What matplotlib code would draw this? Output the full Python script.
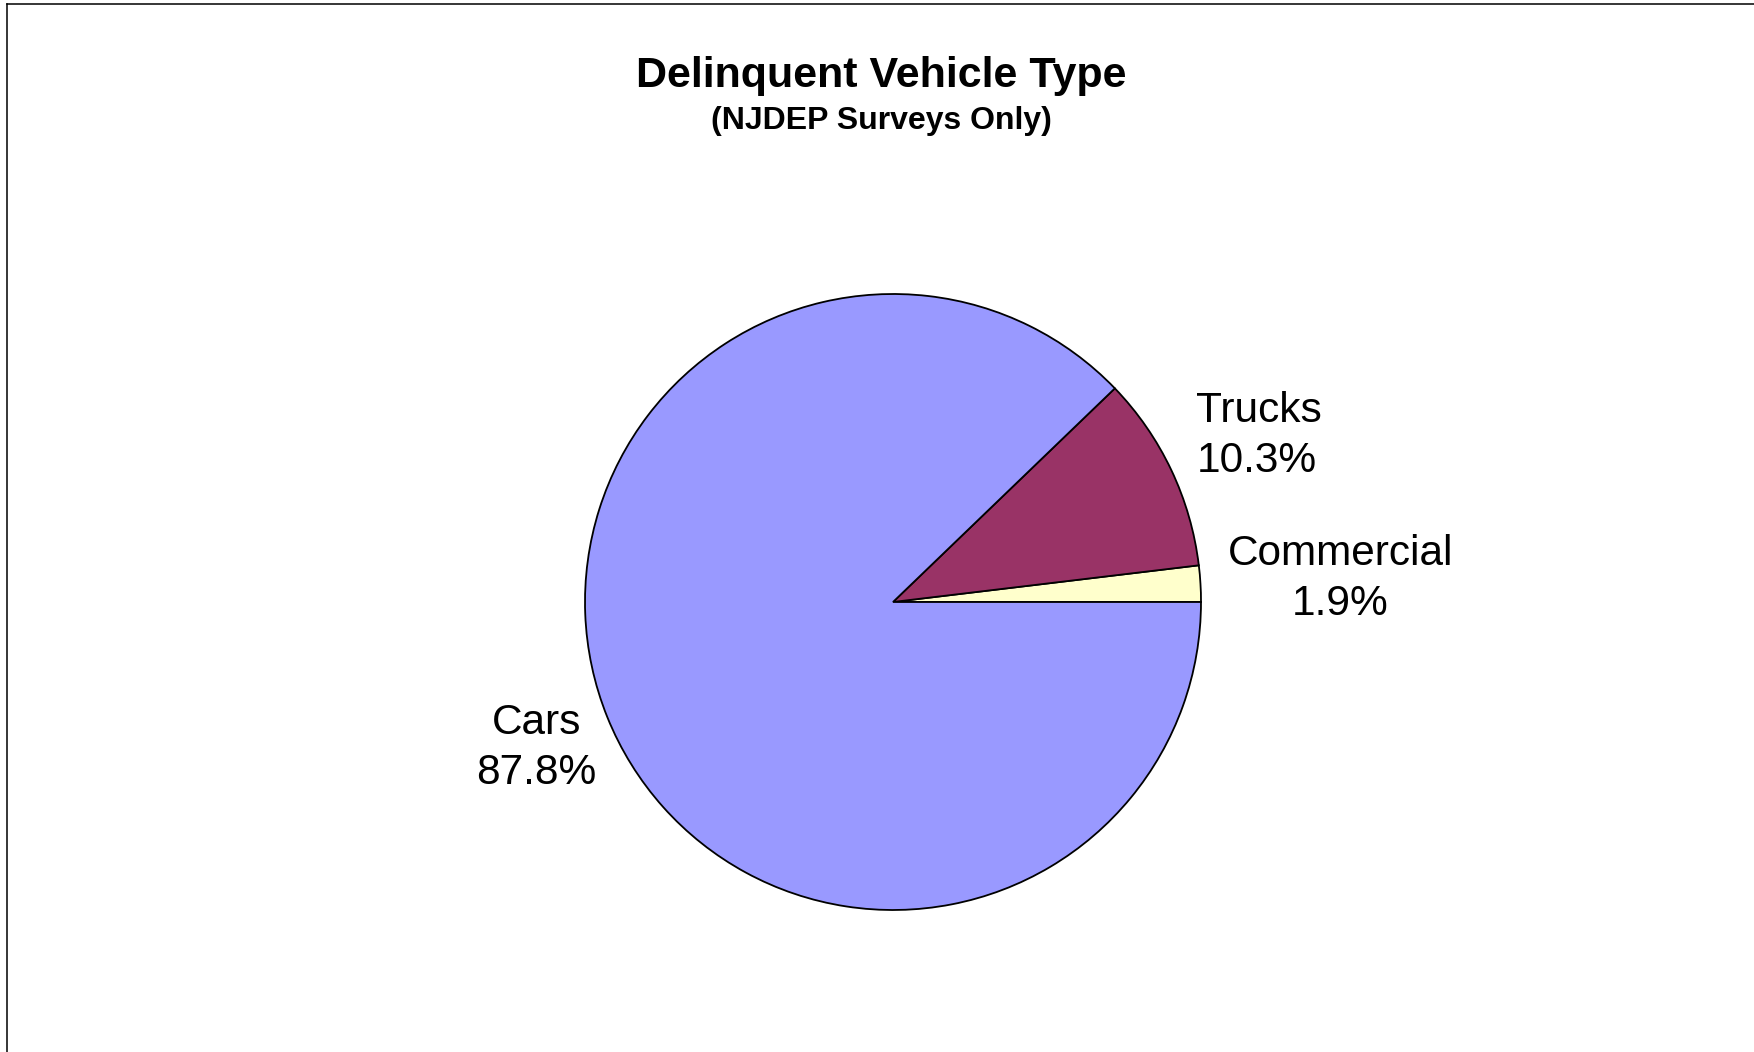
import matplotlib
matplotlib.use("Agg")
import matplotlib.pyplot as plt
from matplotlib.lines import Line2D

plt.rcParams['font.family'] = ['Liberation Sans', 'DejaVu Sans']

# data
categories = ["Commercial", "Trucks", "Cars"]
shares = [1.9, 10.3, 87.8]
colors = ["#FFFFCC", "#993366", "#9999FF"]

title = "Delinquent Vehicle Type"
subtitle = "(NJDEP Surveys Only)"

W, H = 1754, 1052
fig = plt.figure(figsize=(W / 100, H / 100), dpi=100)

# pie axes: centre (893, 602) px, radius ~308 px
r = 308
cx, cy = 893, 602
ax = fig.add_axes([(cx - r) / W, (H - cy - r) / H, 2 * r / W, 2 * r / H])
ax.pie(shares, colors=colors, startangle=0, counterclock=True,
       wedgeprops=dict(edgecolor="black", linewidth=1.3), radius=1.0)
ax.set_xlim(-1, 1)
ax.set_ylim(-1, 1)
ax.set_aspect("auto")
ax.axis("off")

# labels: (x, y, ha) in data units of the pie
label_pos = {
    "Trucks": (0.985, 0.538, "left"),
    "Commercial": (1.452, 0.074, "center"),
    "Cars": (-1.157, -0.475, "center"),
}
for name, val in zip(categories, shares):
    x, y, ha = label_pos[name]
    ax.text(x, y, "{}\n{:.1f}%".format(name, val), ha=ha, va="center",
            multialignment=ha, fontsize=30.5, linespacing=1.33, clip_on=False)

fig.text(0.5025, 1 - 87 / H, title, ha="center", va="baseline",
         fontsize=31, fontweight="bold")
fig.text(0.5025, 1 - 129 / H, subtitle, ha="center", va="baseline",
         fontsize=23, fontweight="bold")

# frame lines (top and left only)
fig.add_artist(Line2D([7 / W, 1], [1 - 4 / H, 1 - 4 / H], color="black",
                      linewidth=1.1, transform=fig.transFigure))
fig.add_artist(Line2D([7 / W, 7 / W], [0, 1 - 4 / H], color="black",
                      linewidth=1.1, transform=fig.transFigure))

fig.savefig("out.png", dpi=100, facecolor="white")
